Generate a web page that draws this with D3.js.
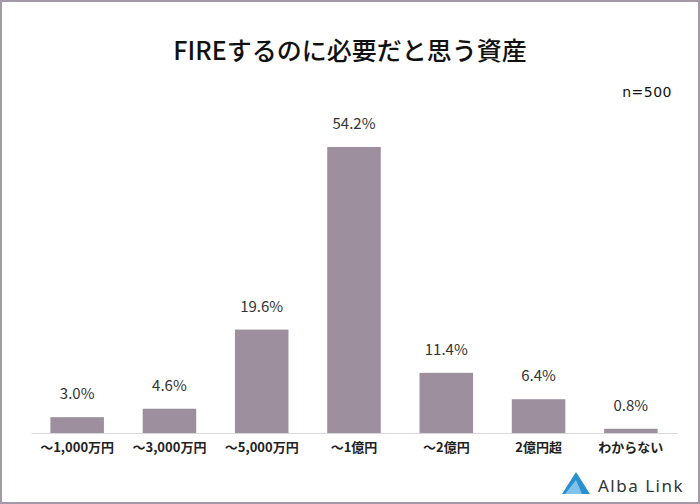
<!DOCTYPE html>
<html><head><meta charset="utf-8">
<script src="https://cdn.jsdelivr.net/npm/d3@7"></script>
<style>body{margin:0;background:#fff}svg{display:block}</style>
</head><body><div id="chart"></div>
<script>
var categories = ["～1,000万円", "～3,000万円", "～5,000万円", "～1億円", "～2億円", "2億円超", "わからない"];
var values = [3.0, 4.6, 19.6, 54.2, 11.4, 6.4, 0.8];

var W = 700, H = 504;
var margin = { left: 31, right: 23, top: 147, bottom: 71 };
var svg = d3.select("#chart").append("svg").attr("width", W).attr("height", H);
var font = "'Noto Sans CJK JP', sans-serif";

svg.append("rect").attr("x", 1).attr("y", 1).attr("width", W - 2).attr("height", H - 2)
    .attr("fill", "#fff").attr("stroke", "#a397a8").attr("stroke-width", 2);

svg.append("text").attr("x", 350).attr("y", 60).attr("text-anchor", "middle")
    .attr("font-family", font).attr("font-size", 25).attr("font-weight", 500).attr("fill", "#111").text("FIREするのに必要だと思う資産");
svg.append("text").attr("x", 672).attr("y", 97).attr("text-anchor", "end")
    .attr("font-family", "'DejaVu Sans', sans-serif").attr("font-size", 14).attr("letter-spacing", 0.5).attr("fill", "#111").text("n=500");

var x = d3.scaleBand().domain(categories).range([margin.left, W - margin.right]).paddingInner(0.42).paddingOuter(0.21);
var y = d3.scaleLinear().domain([0, 54.2]).range([H - margin.bottom, margin.top]);

svg.selectAll("rect.bar").data(values).enter().append("rect").attr("class", "bar")
    .attr("x", function (d, i) { return x(categories[i]); })
    .attr("y", function (d) { return y(d); })
    .attr("width", x.bandwidth())
    .attr("height", function (d) { return y(0) - y(d); })
    .attr("fill", "#9e8f9f");

svg.selectAll("text.val").data(values).enter().append("text").attr("class", "val")
    .attr("x", function (d, i) { return x(categories[i]) + x.bandwidth() / 2; })
    .attr("y", function (d) { return y(d) - 18; })
    .attr("text-anchor", "middle").attr("font-family", font).attr("font-size", 15).attr("fill", "#333")
    .text(function (d) { return d.toFixed(1) + "%"; });

var axis = svg.append("g").attr("transform", "translate(0," + y(0) + ")")
    .call(d3.axisBottom(x).tickSize(0).tickPadding(10));
axis.select(".domain").attr("stroke", "#d9d9d9");
axis.selectAll("text").attr("font-family", font).attr("font-size", 13).attr("font-weight", "bold").attr("fill", "#222");

// logo
var lg = svg.append("g").attr("transform", "translate(562,472)");
lg.append("path").attr("d", "M0,22 L14,0 L28,22 Z").attr("fill", "#2a8fd0");
lg.append("path").attr("d", "M3,22 L14,8 L20,22 Z").attr("fill", "#7fc3ea");
lg.append("text").attr("x", 36).attr("y", 20).attr("font-family", "'Noto Sans', sans-serif")
    .attr("font-size", 17).attr("letter-spacing", 1.5).attr("fill", "#333").text("Alba Link");
</script></body></html>
